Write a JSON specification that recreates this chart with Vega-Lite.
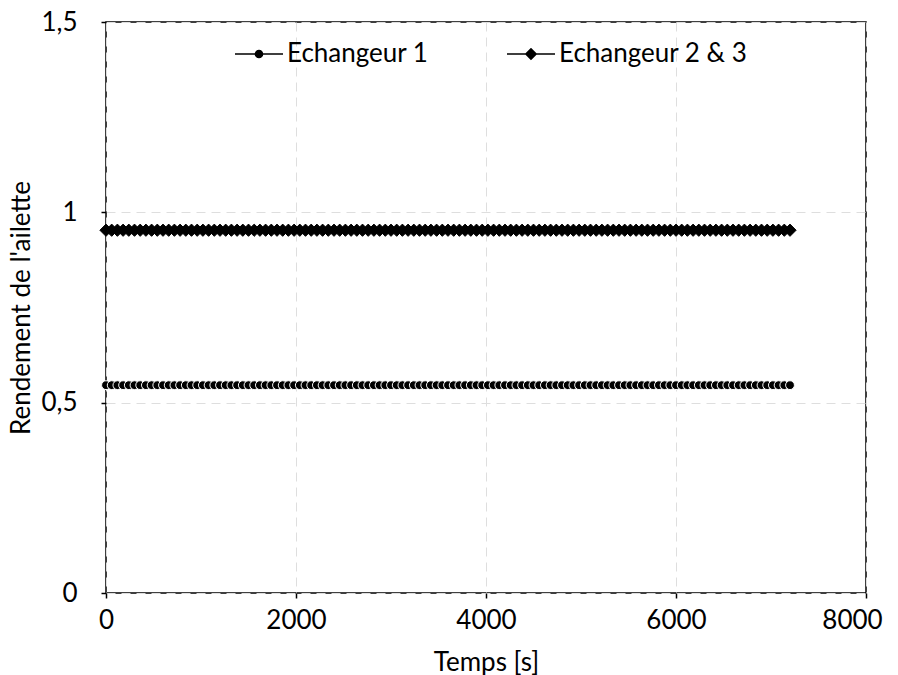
{
  "$schema": "https://vega.github.io/schema/vega-lite/v6.json",
  "width": 760,
  "height": 571,
  "autosize": "none",
  "padding": {"left": 106, "top": 22, "right": 32, "bottom": 82},
  "background": "white",
  "config": {
    "font": "Lato",
    "view": {"stroke": "black", "strokeWidth": 1.5},
    "axis": {
      "domain": false,
      "grid": true,
      "gridColor": "#dedede",
      "gridDash": [9, 6],
      "gridWidth": 1,
      "tickColor": "black",
      "tickSize": 5,
      "tickWidth": 1.5,
      "labelFont": "Lato",
      "labelFontSize": 26,
      "labelColor": "black",
      "labelFlush": false,
      "labelOverlap": false,
      "titleFont": "Lato",
      "titleFontSize": 26,
      "titleFontWeight": "normal",
      "titleColor": "black"
    }
  },
  "data": {
    "values": [
      {"t":0,"a":0.546,"b":0.953},{"t":60,"a":0.546,"b":0.953},{"t":120,"a":0.546,"b":0.953},{"t":180,"a":0.546,"b":0.953},{"t":240,"a":0.546,"b":0.953},{"t":300,"a":0.546,"b":0.953},{"t":360,"a":0.546,"b":0.953},{"t":420,"a":0.546,"b":0.953},{"t":480,"a":0.546,"b":0.953},{"t":540,"a":0.546,"b":0.953},
      {"t":600,"a":0.546,"b":0.953},{"t":660,"a":0.546,"b":0.953},{"t":720,"a":0.546,"b":0.953},{"t":780,"a":0.546,"b":0.953},{"t":840,"a":0.546,"b":0.953},{"t":900,"a":0.546,"b":0.953},{"t":960,"a":0.546,"b":0.953},{"t":1020,"a":0.546,"b":0.953},{"t":1080,"a":0.546,"b":0.953},{"t":1140,"a":0.546,"b":0.953},
      {"t":1200,"a":0.546,"b":0.953},{"t":1260,"a":0.546,"b":0.953},{"t":1320,"a":0.546,"b":0.953},{"t":1380,"a":0.546,"b":0.953},{"t":1440,"a":0.546,"b":0.953},{"t":1500,"a":0.546,"b":0.953},{"t":1560,"a":0.546,"b":0.953},{"t":1620,"a":0.546,"b":0.953},{"t":1680,"a":0.546,"b":0.953},{"t":1740,"a":0.546,"b":0.953},
      {"t":1800,"a":0.546,"b":0.953},{"t":1860,"a":0.546,"b":0.953},{"t":1920,"a":0.546,"b":0.953},{"t":1980,"a":0.546,"b":0.953},{"t":2040,"a":0.546,"b":0.953},{"t":2100,"a":0.546,"b":0.953},{"t":2160,"a":0.546,"b":0.953},{"t":2220,"a":0.546,"b":0.953},{"t":2280,"a":0.546,"b":0.953},{"t":2340,"a":0.546,"b":0.953},
      {"t":2400,"a":0.546,"b":0.953},{"t":2460,"a":0.546,"b":0.953},{"t":2520,"a":0.546,"b":0.953},{"t":2580,"a":0.546,"b":0.953},{"t":2640,"a":0.546,"b":0.953},{"t":2700,"a":0.546,"b":0.953},{"t":2760,"a":0.546,"b":0.953},{"t":2820,"a":0.546,"b":0.953},{"t":2880,"a":0.546,"b":0.953},{"t":2940,"a":0.546,"b":0.953},
      {"t":3000,"a":0.546,"b":0.953},{"t":3060,"a":0.546,"b":0.953},{"t":3120,"a":0.546,"b":0.953},{"t":3180,"a":0.546,"b":0.953},{"t":3240,"a":0.546,"b":0.953},{"t":3300,"a":0.546,"b":0.953},{"t":3360,"a":0.546,"b":0.953},{"t":3420,"a":0.546,"b":0.953},{"t":3480,"a":0.546,"b":0.953},{"t":3540,"a":0.546,"b":0.953},
      {"t":3600,"a":0.546,"b":0.953},{"t":3660,"a":0.546,"b":0.953},{"t":3720,"a":0.546,"b":0.953},{"t":3780,"a":0.546,"b":0.953},{"t":3840,"a":0.546,"b":0.953},{"t":3900,"a":0.546,"b":0.953},{"t":3960,"a":0.546,"b":0.953},{"t":4020,"a":0.546,"b":0.953},{"t":4080,"a":0.546,"b":0.953},{"t":4140,"a":0.546,"b":0.953},
      {"t":4200,"a":0.546,"b":0.953},{"t":4260,"a":0.546,"b":0.953},{"t":4320,"a":0.546,"b":0.953},{"t":4380,"a":0.546,"b":0.953},{"t":4440,"a":0.546,"b":0.953},{"t":4500,"a":0.546,"b":0.953},{"t":4560,"a":0.546,"b":0.953},{"t":4620,"a":0.546,"b":0.953},{"t":4680,"a":0.546,"b":0.953},{"t":4740,"a":0.546,"b":0.953},
      {"t":4800,"a":0.546,"b":0.953},{"t":4860,"a":0.546,"b":0.953},{"t":4920,"a":0.546,"b":0.953},{"t":4980,"a":0.546,"b":0.953},{"t":5040,"a":0.546,"b":0.953},{"t":5100,"a":0.546,"b":0.953},{"t":5160,"a":0.546,"b":0.953},{"t":5220,"a":0.546,"b":0.953},{"t":5280,"a":0.546,"b":0.953},{"t":5340,"a":0.546,"b":0.953},
      {"t":5400,"a":0.546,"b":0.953},{"t":5460,"a":0.546,"b":0.953},{"t":5520,"a":0.546,"b":0.953},{"t":5580,"a":0.546,"b":0.953},{"t":5640,"a":0.546,"b":0.953},{"t":5700,"a":0.546,"b":0.953},{"t":5760,"a":0.546,"b":0.953},{"t":5820,"a":0.546,"b":0.953},{"t":5880,"a":0.546,"b":0.953},{"t":5940,"a":0.546,"b":0.953},
      {"t":6000,"a":0.546,"b":0.953},{"t":6060,"a":0.546,"b":0.953},{"t":6120,"a":0.546,"b":0.953},{"t":6180,"a":0.546,"b":0.953},{"t":6240,"a":0.546,"b":0.953},{"t":6300,"a":0.546,"b":0.953},{"t":6360,"a":0.546,"b":0.953},{"t":6420,"a":0.546,"b":0.953},{"t":6480,"a":0.546,"b":0.953},{"t":6540,"a":0.546,"b":0.953},
      {"t":6600,"a":0.546,"b":0.953},{"t":6660,"a":0.546,"b":0.953},{"t":6720,"a":0.546,"b":0.953},{"t":6780,"a":0.546,"b":0.953},{"t":6840,"a":0.546,"b":0.953},{"t":6900,"a":0.546,"b":0.953},{"t":6960,"a":0.546,"b":0.953},{"t":7020,"a":0.546,"b":0.953},{"t":7080,"a":0.546,"b":0.953},{"t":7140,"a":0.546,"b":0.953},
      {"t":7200,"a":0.546,"b":0.953}
    ]
  },
  "transform": [{"fold": ["a", "b"], "as": ["s", "v"]}],
  "encoding": {
    "x": {
      "field": "t", "type": "quantitative",
      "scale": {"domain": [0, 8000], "nice": false},
      "axis": {
        "values": [0, 2000, 4000, 6000, 8000], "title": "Temps [s]", "format": "d",
        "labelPadding": 9, "titlePadding": 16,
        "labelOffset": {"condition": {"test": "datum.value == 8000", "value": -14}, "value": 0}
      }
    },
    "y": {
      "field": "v", "type": "quantitative",
      "scale": {"domain": [0, 1.5], "nice": false},
      "axis": {
        "values": [0, 0.5, 1, 1.5], "title": "Rendement de l'ailette", "format": ".1~f",
        "labelExpr": "replace(datum.label, '.', ',')",
        "labelPadding": 24, "titlePadding": 6,
        "encode": {"labels": {"update": {"dx": {"signal": "datum.value > 0.9 && datum.value < 1.1 ? 25 : (datum.value > 0.4 && datum.value < 0.6 ? 9 : 0)"}}}}
      }
    }
  },
  "layer": [
    {
      "mark": {"type": "point", "filled": true, "fill": "black", "opacity": 1},
      "encoding": {
        "shape": {"field": "s", "type": "nominal", "scale": {"domain": ["a", "b"], "range": ["circle", "diamond"]}, "legend": null},
        "size": {"field": "s", "type": "nominal", "scale": {"domain": ["a", "b"], "range": [78, 150]}, "legend": null},
        "stroke": {"field": "s", "type": "nominal", "scale": {"domain": ["a", "b"], "range": ["white", "black"]}, "legend": null},
        "strokeWidth": {"value": 1}
      }
    },
    {
      "transform": [{"filter": "datum.t < 0"}],
      "mark": {"type": "point", "filled": true, "fill": "black", "opacity": 1},
      "encoding": {
        "shape": {
          "field": "s", "type": "nominal",
          "scale": {"domain": ["a", "b"], "range": [
            "M-1,-0.035L-0.14,-0.035L-0.14,0.035L-1,0.035ZM0.14,-0.035L1,-0.035L1,0.035L0.14,0.035ZM-0.18,0A0.18,0.18 0 1,1 0.18,0A0.18,0.18 0 1,1 -0.18,0Z",
            "M-1,-0.03L-0.22,-0.03L-0.22,0.03L-1,0.03ZM0.22,-0.03L1,-0.03L1,0.03L0.22,0.03ZM-0.26,0L0,-0.26L0.26,0L0,0.26Z"
          ]},
          "legend": {
            "title": null,
            "orient": "none",
            "legendX": 129,
            "legendY": 8,
            "direction": "horizontal",
            "columnPadding": 78,
            "symbolSize": 2304,
            "symbolOpacity": 1,
            "symbolFillColor": "black",
            "symbolStrokeColor": "black",
            "symbolStrokeWidth": 0,
            "labelFont": "Lato",
            "labelFontSize": 26,
            "labelColor": "black",
            "labelOffset": 4,
            "labelLimit": 400,
            "labelExpr": "datum.label == 'a' ? 'Echangeur 1' : 'Echangeur 2 & 3'"
          }
        }
      }
    }
  ],
  "resolve": {"scale": {"shape": "independent"}}
}
